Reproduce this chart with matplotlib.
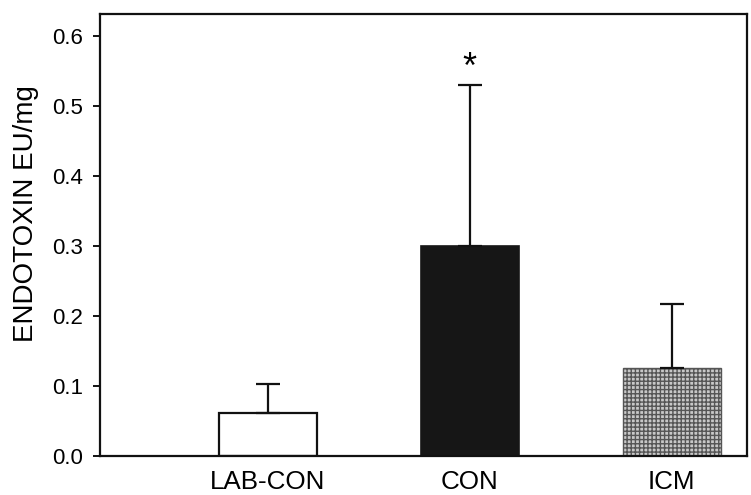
import matplotlib
matplotlib.use("Agg")
import matplotlib.pyplot as plt

categories = ["LAB-CON", "CON", "ICM"]
means = [0.061, 0.300, 0.126]
errors = [0.042, 0.230, 0.091]
yticks = [0.0, 0.1, 0.2, 0.3, 0.4, 0.5, 0.6]
ylabel = "ENDOTOXIN EU/mg"
star_label = "*"
star_y = 0.540

plt.rcParams['font.family'] = ['Liberation Sans', 'DejaVu Sans']
plt.rcParams['hatch.linewidth'] = 1.0

fig = plt.figure(figsize=(7.51, 4.95), dpi=100)
L, R, T, B = 100, 747, 14, 456
ax = fig.add_axes([L/751, 1-B/495, (R-L)/751, (B-T)/495])

x = list(range(len(categories)))
w = 0.486
ax.bar(x[0], means[0], w, color="white", edgecolor="#111111", linewidth=1.6, zorder=2)
ax.bar(x[1], means[1], w, color="#161616", edgecolor="#161616", linewidth=1.2, zorder=2)
ax.bar(x[2], means[2], w, color="#c8c8c8", edgecolor="#555555", linewidth=1.0,
       hatch="++++", zorder=2)

ax.errorbar(x, means, yerr=[[0]*len(errors), errors], fmt="none", ecolor="#111111",
            elinewidth=1.6, capsize=8.6, capthick=1.6, zorder=3)

ax.text(x[1], star_y, star_label, ha="center", va="baseline", fontsize=26)

ax.set_xlim(-0.833, 2.374)
ax.set_ylim(0, 0.631)
ax.set_yticks(yticks)
ax.set_yticklabels([f"{v:.1f}" for v in yticks])
ax.set_xticks(x)
ax.set_xticklabels(categories)
ax.tick_params(axis="y", direction="out", length=5, width=1.3, labelsize=16, pad=7)
ax.tick_params(axis="x", length=0, labelsize=18.7, pad=10)
ax.set_ylabel(ylabel, fontsize=20)
ax.yaxis.set_label_coords(-(L-39)/(R-L), (B-214)/(B-T))
for s in ax.spines.values():
    s.set_linewidth(1.6)
    s.set_color("#111111")

fig.savefig("out.png", dpi=100)
